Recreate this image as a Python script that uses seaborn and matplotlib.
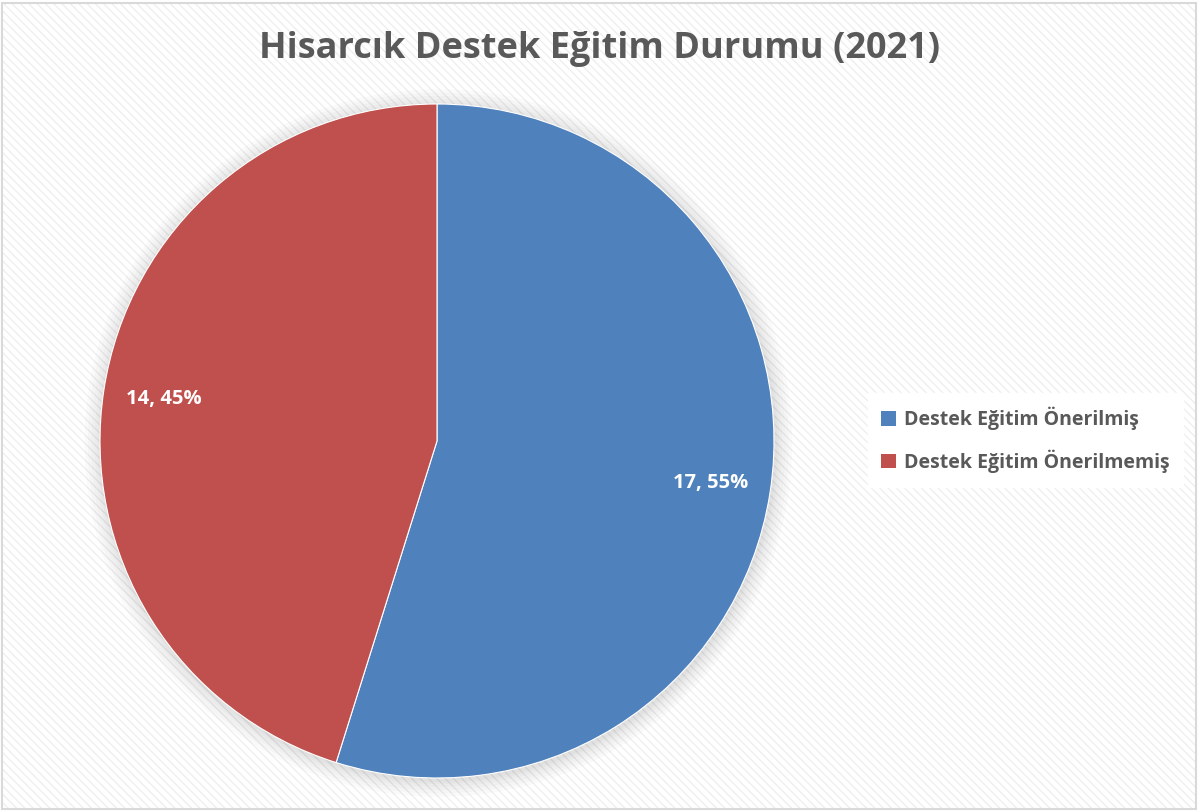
import matplotlib
matplotlib.use("Agg")
import matplotlib.pyplot as plt
from matplotlib.patches import Rectangle, Circle, Patch
import seaborn as sns

# data
categories = ["Destek Eğitim Önerilmiş", "Destek Eğitim Önerilmemiş"]
counts = [17, 14]
title = "Hisarcık Destek Eğitim Durumu (2021)"

sns.set_theme(style="white")
plt.rcParams["font.family"] = ["Open Sans", "DejaVu Sans"]
colors = ["#4f81bd", "#c0504d"]
text_grey = "#595959"

W, H = 1198, 811
fig = plt.figure(figsize=(W / 100, H / 100), dpi=100)
fig.patch.set_facecolor("white")

# hatched chart-area background + border
bg = Rectangle((2 / W, 2 / H), 1 - 4 / W, 1 - 5 / H, transform=fig.transFigure,
               facecolor="white", edgecolor="#efefef", hatch="\\\\\\\\", lw=0, zorder=-10)
fig.patches.append(bg)
border = Rectangle((2 / W, 2 / H), 1 - 4 / W, 1 - 5 / H, transform=fig.transFigure,
                   facecolor="none", edgecolor="#d9d9d9", lw=1.5, zorder=10)
fig.patches.append(border)

cx, cy, r = 437, 441, 337
ax = fig.add_axes([(cx - r) / W, (H - cy - r) / H, 2 * r / W, 2 * r / H])
ax.set_facecolor("none")
ax.set_zorder(2)

# soft shadow under the pie
for rr in [1.05, 1.04, 1.03, 1.02, 1.012, 1.006]:
    ax.add_patch(Circle((0.004, -0.006), rr, color="black", alpha=0.02, lw=0,
                        zorder=0, clip_on=False))

total = sum(counts)
wedges, texts, autotexts = ax.pie(
    counts, colors=colors, startangle=90, counterclock=False,
    autopct=lambda p: f"{round(p * total / 100)}, {p:.0f}%",
    pctdistance=0.82, radius=1,
    wedgeprops=dict(edgecolor="white", linewidth=0.8),
    textprops=dict(color="white", fontsize=14.5, fontweight="bold"),
)
for w in wedges:
    w.set_zorder(2)
for t in autotexts:
    t.set_zorder(3)
ax.set_aspect("equal")
ax.axis("off")
ax.set_xlim(-1, 1)
ax.set_ylim(-1, 1)

fig.text(600 / W, 1 - 49 / H, title, ha="center", va="center",
         fontsize=26, fontweight="bold", color=text_grey)

handles = [Patch(facecolor=c, edgecolor="none") for c in colors]
leg = fig.legend(handles, categories, loc="center left",
                 bbox_to_anchor=(858 / W, 1 - 440 / H),
                 frameon=True, fancybox=False, framealpha=1,
                 edgecolor="white", facecolor="white",
                 prop=dict(size=14, weight="bold"), labelcolor=text_grey,
                 handlelength=0.75, handleheight=0.75, handletextpad=0.4,
                 labelspacing=1.0, borderpad=0.7)

fig.savefig("out.png", dpi=100)
